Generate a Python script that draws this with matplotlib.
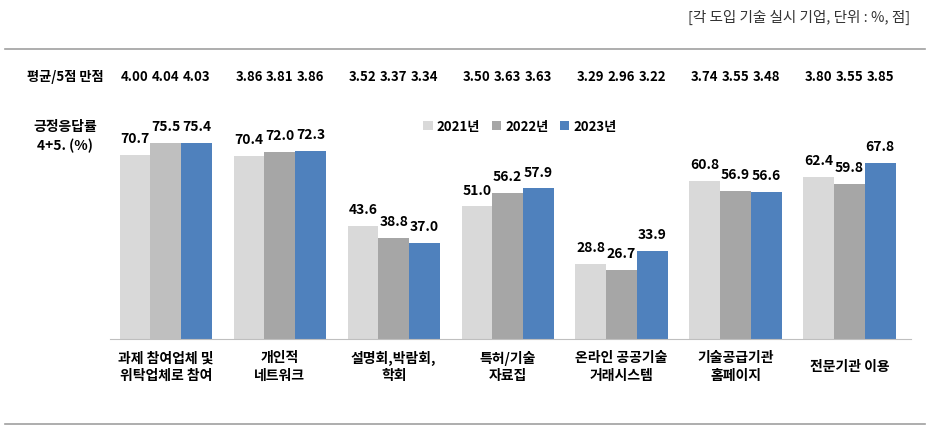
import matplotlib
matplotlib.use("Agg")
import matplotlib.pyplot as plt
import matplotlib.transforms as mtransforms
from matplotlib.patches import Patch
import numpy as np

plt.rcParams['font.family'] = ['Noto Sans CJK KR', 'DejaVu Sans']

categories = ["과제 참여업체 및\n위탁업체로 참여", "개인적\n네트워크", "설명회,박람회,\n학회",
              "특허/기술\n자료집", "온라인 공공기술\n거래시스템", "기술공급기관\n홈페이지", "전문기관 이용"]
years = ["2021년", "2022년", "2023년"]
pos_2021 = [70.7, 70.4, 43.6, 51.0, 28.8, 60.8, 62.4]
pos_2022 = [75.5, 72.0, 38.8, 56.2, 26.7, 56.9, 59.8]
pos_2023 = [75.4, 72.3, 37.0, 57.9, 33.9, 56.6, 67.8]
mean_2021 = ["4.00", "3.86", "3.52", "3.50", "3.29", "3.74", "3.80"]
mean_2022 = ["4.04", "3.81", "3.37", "3.63", "2.96", "3.55", "3.55"]
mean_2023 = ["4.03", "3.86", "3.34", "3.63", "3.22", "3.48", "3.85"]

colors = ["#D9D9D9", "#A6A6A6", "#4F81BD"]

W, H = 930, 431
fig = plt.figure(figsize=(W / 100, H / 100), dpi=100)
ax = fig.add_axes([110 / W, (H - 340) / H, (911 - 110) / W, 260 / H])

x = np.arange(len(categories))
bw = 0.27
series = [pos_2021, pos_2022, pos_2023]
for k, vals in enumerate(series):
    cols = [colors[k]] * len(vals)
    if k == 1:
        cols[0] = "#BFBFBF"
    bars = ax.bar(x + (k - 1) * bw, vals, bw, color=cols, edgecolor='none', zorder=2)
    for b, v in zip(bars, vals):
        ax.text(b.get_x() + b.get_width() / 2, v + 3.8, f"{v:.1f}", ha='center', va='bottom',
                fontsize=10, fontweight='bold', color='black')

ax.set_xlim(-0.49, 6.54)
ax.set_ylim(0, 100)
for s in ['top', 'right', 'left']:
    ax.spines[s].set_visible(False)
ax.spines['bottom'].set_color('#BFBFBF')
ax.set_yticks([])
ax.set_xticks([])

trans = mtransforms.blended_transform_factory(ax.transData, fig.transFigure)
for i, cat in enumerate(categories):
    fig.text(x[i], 1 - 367 / H, cat, transform=trans, ha='center', va='center',
             fontsize=10, fontweight='bold', linespacing=1.35)
    for k, m in enumerate([mean_2021, mean_2022, mean_2023]):
        fig.text(x[i] + (k - 1) * bw, 1 - 77 / H, m[i], transform=trans, ha='center',
                 va='center', fontsize=9.5, fontweight='bold')

fig.text(65 / W, 1 - 77 / H, "평균/5점 만점", ha='center', va='center', fontsize=9.5, fontweight='bold')
fig.text(65 / W, 1 - 127 / H, "긍정응답률", ha='center', va='center', fontsize=10, fontweight='bold')
fig.text(65 / W, 1 - 146 / H, "4+5. (%)", ha='center', va='center', fontsize=10, fontweight='bold')

fig.text(910 / W, 1 - 17 / H, "[각 도입 기술 실시 기업, 단위 : %, 점]", ha='right', va='center',
         fontsize=10.5, color='#333333')

fig.add_artist(plt.Line2D([5 / W, 925 / W], [1 - 50 / H, 1 - 50 / H], color='#A0A0A0', lw=1.2,
                          transform=fig.transFigure))
fig.add_artist(plt.Line2D([5 / W, 925 / W], [1 - 425 / H, 1 - 425 / H], color='#A0A0A0', lw=1.2,
                          transform=fig.transFigure))

handles = [Patch(facecolor=c, edgecolor='none') for c in colors]
fig.legend(handles, years, loc='center', bbox_to_anchor=(520 / W, 1 - 127 / H), ncol=3,
           frameon=False, handlelength=0.7, handleheight=0.7, handletextpad=0.3,
           columnspacing=0.9, prop={'size': 9.5, 'weight': 'bold'})

fig.savefig("out.png", dpi=100)
